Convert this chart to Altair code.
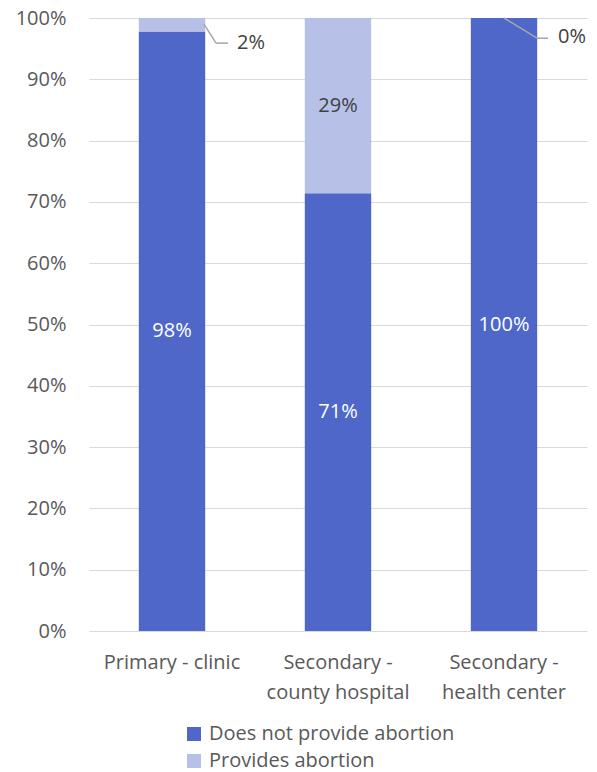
import altair as alt
import pandas as pd

categories = ["Primary - clinic", "Secondary - county hospital", "Secondary - health center"]
axis_labels = {"Primary - clinic": "Primary - clinic",
               "Secondary - county hospital": "Secondary -|county hospital",
               "Secondary - health center": "Secondary -|health center"}
series = ["Does not provide abortion", "Provides abortion"]
not_provide = [97.8, 71.4, 100.0]
provide = [2.2, 28.6, 0.0]

# leader line segments for the small values: category, start/end value (%), pixel offsets from bar centre
seg_cat = ["Primary - clinic", "Primary - clinic", "Secondary - health center", "Secondary - health center"]
seg_y1 = [99.0, 95.9, 100.0, 96.7]
seg_y2 = [95.9, 95.9, 96.7, 96.7]
seg_off1 = [32, 44, 0, 33]
seg_off2 = [44, 56, 33, 44]

# outside labels
out_cat = ["Primary - clinic", "Secondary - health center"]
out_val = [2.2, 0.0]
out_y = [95.9, 96.9]
out_dx = [65, 54]

rows = []
for i, c in enumerate(categories):
    rows.append({"cat": c, "series": series[0], "value": not_provide[i], "ord": 0})
    rows.append({"cat": c, "series": series[1], "value": provide[i], "ord": 1})
df = pd.DataFrame(rows)

FONT = "Open Sans"
TXT = "#595959"
DARK = "#4E67C8"
LIGHT = "#B7C1E8"

label_expr = "split(" + "{" + ",".join(
    f"'{k}': '{v}'" for k, v in axis_labels.items()) + "}[datum.value], '|')"

xenc = alt.X("cat:N", sort=categories, title=None,
             scale=alt.Scale(paddingInner=0.6, paddingOuter=0.3),
             axis=alt.Axis(labelExpr=label_expr, labelAngle=0, ticks=False, domain=False,
                           labelPadding=21, labelLineHeight=30, labelFontSize=20,
                           labelColor=TXT, labelFont=FONT, grid=False))

bars = alt.Chart(df).mark_bar().encode(
    x=xenc,
    y=alt.Y("value:Q", stack="zero", title=None,
            scale=alt.Scale(domain=[0, 100], nice=False),
            axis=alt.Axis(values=list(range(0, 101, 10)), labelExpr="datum.value + '%'",
                          ticks=False, domain=False, labelPadding=23, labelFontSize=20,
                          labelColor=TXT, labelFont=FONT, gridColor="#D9D9D9", gridWidth=1)),
    color=alt.Color("series:N", scale=alt.Scale(domain=series, range=[DARK, LIGHT]),
                    legend=alt.Legend(title=None, orient="none", legendX=95, legendY=706,
                                      direction="vertical", symbolType="square",
                                      symbolSize=196, symbolStrokeWidth=0,
                                      labelFontSize=20, labelFont=FONT, labelColor=TXT,
                                      labelLimit=400, labelOffset=5, rowPadding=7, padding=0)),
    order=alt.Order("ord:Q"),
)

inside = alt.Chart(df).transform_stack(
    stack="value", groupby=["cat"], as_=["v0", "v1"], sort=[alt.SortField("ord")]
).transform_calculate(
    mid="(datum.v0 + datum.v1) / 2",
    txt="format(datum.value / 100, '.0%')"
).transform_filter("datum.value >= 5").mark_text(
    fontSize=20, font=FONT, baseline="middle"
).encode(
    x=alt.X("cat:N", sort=categories),
    y="mid:Q",
    text="txt:N",
    color=alt.condition(alt.datum.ord == 0, alt.value("#FFFFFF"), alt.value("#404040")),
)

layers = [bars, inside]

for i in range(len(seg_cat)):
    sdf = pd.DataFrame({"cat": [seg_cat[i]], "y1": [seg_y1[i]], "y2": [seg_y2[i]]})
    layers.append(
        alt.Chart(sdf).mark_rule(color="#A6A6A6", strokeWidth=1.5,
                                 xOffset=seg_off1[i], x2Offset=seg_off2[i]).encode(
            x=alt.X("cat:N", sort=categories),
            x2="cat:N",
            y="y1:Q",
            y2="y2:Q",
        )
    )

for i in range(len(out_cat)):
    odf = pd.DataFrame({"cat": [out_cat[i]], "value": [out_val[i]], "y": [out_y[i]]})
    layers.append(
        alt.Chart(odf).transform_calculate(
            txt="format(datum.value / 100, '.0%')"
        ).mark_text(fontSize=20, font=FONT, baseline="middle", align="left",
                    color="#404040", dx=out_dx[i]).encode(
            x=alt.X("cat:N", sort=categories),
            y="y:Q",
            text="txt:N",
        )
    )

chart = alt.layer(*layers).properties(
    width=498, height=613,
    autosize=alt.AutoSizeParams(type="none"),
    padding={"left": 89, "top": 18, "right": 10, "bottom": 141},
).configure_view(stroke=None)

chart.save("out.html", embed_options={"renderer": "svg", "actions": False})
